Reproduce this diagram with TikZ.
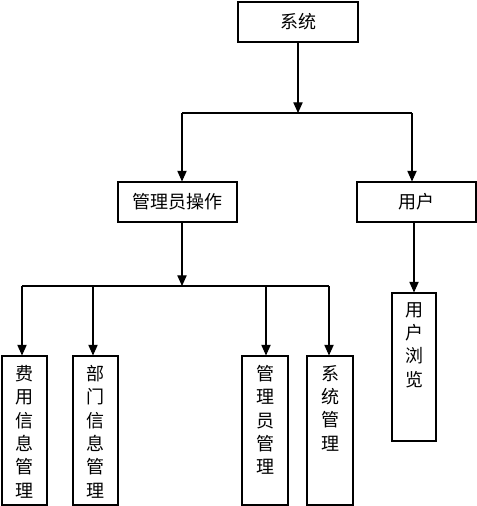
\documentclass[tikz,border=0pt]{standalone}
\usepackage{fontspec}
\setmainfont{Noto Sans CJK SC}
\usetikzlibrary{arrows.meta}
\begin{document}
\begin{tikzpicture}[x=0.75pt,y=-0.75pt,
  line width=0.8pt,
  box/.style={draw=black, line width=0.8pt, rectangle, inner sep=0pt, font=\fontsize{13.5}{16}\selectfont},
  vtext/.style={anchor=north, inner sep=0pt, align=center, font=\fontsize{13.5}{17.5}\selectfont},
  arr/.style={-{Triangle[length=8pt,width=7pt]}}]
\useasboundingbox (0,0) rectangle (477,506);
% boxes
\node[box, minimum width=90pt, minimum height=30pt] (sys) at (298,22) {系统};
\node[box, minimum width=89.25pt, minimum height=30pt] (admin) at (177.5,202) {管理员操作};
\node[box, minimum width=89.25pt, minimum height=30pt] (user) at (416.5,202) {用户};
\node[box, minimum width=33pt, minimum height=111pt] (ub) at (414,367) {};
\node[vtext] at ([yshift=-7pt]ub.north) {用\\户\\浏\\览};
\node[box, minimum width=33.75pt, minimum height=111.75pt] (fy) at (24.5,430.5) {};
\node[vtext] at ([yshift=-7pt]fy.north) {费\\用\\信\\息\\管\\理};
\node[box, minimum width=33.75pt, minimum height=111.75pt] (bm) at (95.5,430.5) {};
\node[vtext] at ([yshift=-7pt]bm.north) {部\\门\\信\\息\\管\\理};
\node[box, minimum width=34.5pt, minimum height=111.75pt] (gl) at (265,430.5) {};
\node[vtext] at ([yshift=-7pt]gl.north) {管\\理\\员\\管\\理};
\node[box, minimum width=34.5pt, minimum height=111.75pt] (xt) at (330,430.5) {};
\node[vtext] at ([yshift=-7pt]xt.north) {系\\统\\管\\理};
% junctions
\coordinate (j1) at (298,113);
\coordinate (j1l) at (182,113);
\coordinate (j1r) at (412,113);
\coordinate (j2) at (182,286);
\coordinate (j2a) at (22,286);
\coordinate (j2b) at (93,286);
\coordinate (j2c) at (266,286);
\coordinate (j2d) at (329,286);
% connectors
\draw[arr] (sys.south) -- (j1);
\draw (j1l) -- (j1r);
\draw[arr] (j1l) -- (j1l |- admin.north);
\draw[arr] (j1r) -- (j1r |- user.north);
\draw[arr] (admin.south -| j2) -- (j2);
\draw (j2a) -- (j2d);
\draw[arr] (j2a) -- (j2a |- fy.north);
\draw[arr] (j2b) -- (j2b |- bm.north);
\draw[arr] (j2c) -- (j2c |- gl.north);
\draw[arr] (j2d) -- (j2d |- xt.north);
\draw[arr] (user.south -| ub.north) -- (ub.north);
\end{tikzpicture}
\end{document}
